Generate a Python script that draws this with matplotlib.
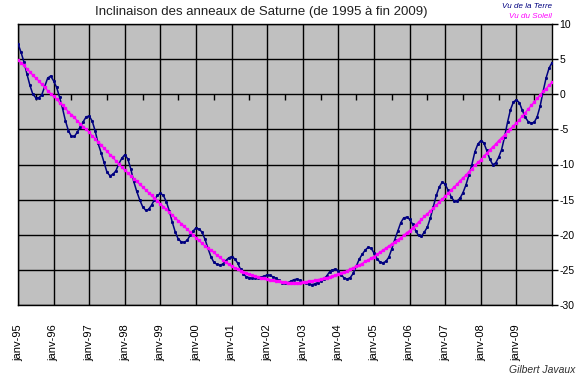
import matplotlib
matplotlib.use("Agg")
import matplotlib.pyplot as plt
import numpy as np

plt.rcParams['font.family'] = ['Liberation Sans', 'DejaVu Sans']
plt.rcParams['axes.unicode_minus'] = False

title = "Inclinaison des anneaux de Saturne (de 1995 à fin 2009)"
label_terre = "Vu de la Terre"
label_soleil = "Vu du Soleil"
author = "Gilbert Javaux"

year_labels = ['janv-95', 'janv-96', 'janv-97', 'janv-98', 'janv-99',
               'janv-00', 'janv-01', 'janv-02', 'janv-03', 'janv-04',
               'janv-05', 'janv-06', 'janv-07', 'janv-08', 'janv-09']

y_ticks = [10, 5, 0, -5, -10, -15, -20, -25, -30]

# monthly values, Jan 1995 .. Jan 2010 (degrees)
terre = [
    7.2, 6.0, 4.6, 2.9, 1.3, 0.0, -0.5, -0.5, -0.1, 1.1, 2.3, 2.6,
    1.9, 1.0, -0.4, -2.0, -3.8, -5.2, -6.0, -6.0, -5.4, -4.6, -3.9, -3.2,
    -3.1, -3.8, -5.2, -7.0, -8.3, -9.7, -11.1, -11.6, -11.4, -10.9, -9.9, -9.1,
    -8.6, -9.2, -10.6, -12.4, -13.8, -15.0, -16.0, -16.5, -16.4, -15.8, -15.0, -14.4,
    -14.1, -14.4, -15.3, -16.6, -18.2, -19.6, -20.6, -21.0, -21.1, -20.8, -20.1, -19.5,
    -19.0, -19.2, -19.6, -20.6, -21.9, -23.1, -23.9, -24.2, -24.3, -24.2, -23.7, -23.3,
    -23.1, -23.4, -24.0, -24.9, -25.6, -26.0, -26.1, -26.2, -26.2, -26.1, -26.0, -25.9,
    -25.7, -25.8, -26.0, -26.2, -26.5, -26.8, -26.9, -26.8, -26.6, -26.4, -26.3, -26.5,
    -26.7, -26.9, -27.0, -27.1, -27.0, -26.8, -26.6, -26.3, -25.9, -25.3, -25.0, -24.9,
    -25.1, -25.7, -26.2, -26.3, -26.1, -25.5, -24.5, -23.5, -22.8, -22.2, -21.8, -21.9,
    -22.6, -23.4, -23.9, -24.0, -23.8, -23.2, -22.0, -20.7, -19.5, -18.3, -17.6, -17.5,
    -17.8, -18.5, -19.4, -20.1, -20.2, -19.6, -18.9, -17.6, -16.0, -14.4, -13.2, -12.5,
    -12.8, -13.7, -14.6, -15.2, -15.2, -14.8, -14.0, -12.9, -11.5, -10.0, -8.2, -7.1,
    -6.6, -6.9, -8.0, -9.2, -10.0, -9.8, -9.0, -7.9, -6.1, -4.0, -2.2, -1.1,
    -0.8, -1.2, -2.3, -3.3, -3.9, -4.1, -4.0, -3.2, -1.7, 0.4, 2.3, 3.7,
    4.5,
]

soleil = [
    4.9, 4.5, 4.1, 3.6, 3.2, 2.7, 2.3, 1.9, 1.4, 1.0, 0.5, 0.1,
    -0.3, -0.7, -1.2, -1.6, -2.0, -2.5, -2.9, -3.3, -3.8, -4.2, -4.6, -5.0,
    -5.4, -5.9, -6.3, -6.8, -7.2, -7.7, -8.1, -8.6, -9.0, -9.5, -9.9, -10.4,
    -10.8, -11.2, -11.6, -12.0, -12.4, -12.8, -13.2, -13.6, -14.0, -14.4, -14.8, -15.2,
    -15.6, -16.0, -16.4, -16.8, -17.2, -17.6, -18.0, -18.4, -18.8, -19.2, -19.6, -20.0,
    -20.4, -20.8, -21.2, -21.6, -21.9, -22.2, -22.5, -22.9, -23.2, -23.6, -23.9, -24.2,
    -24.5, -24.7, -24.9, -25.1, -25.3, -25.5, -25.6, -25.8, -25.9, -26.0, -26.1, -26.2,
    -26.3, -26.4, -26.5, -26.6, -26.6, -26.7, -26.7, -26.8, -26.8, -26.8, -26.8, -26.8,
    -26.7, -26.7, -26.6, -26.6, -26.5, -26.4, -26.3, -26.2, -26.1, -26.0, -25.9, -25.7,
    -25.6, -25.4, -25.3, -25.1, -24.9, -24.7, -24.5, -24.3, -24.1, -23.8, -23.6, -23.3,
    -23.1, -22.8, -22.5, -22.2, -21.9, -21.6, -21.3, -21.0, -20.7, -20.4, -20.1, -19.7,
    -19.4, -19.0, -18.6, -18.2, -17.8, -17.4, -17.0, -16.6, -16.2, -15.8, -15.3, -14.9,
    -14.5, -14.1, -13.6, -13.2, -12.8, -12.3, -11.9, -11.5, -11.0, -10.6, -10.1, -9.7,
    -9.3, -8.8, -8.4, -7.9, -7.5, -7.1, -6.6, -6.2, -5.8, -5.3, -4.9, -4.5,
    -4.1, -3.6, -3.1, -2.6, -2.1, -1.6, -1.1, -0.6, -0.1, 0.4, 0.8, 1.3,
    1.7,
]

months = np.arange(len(terre))

W, H = 582, 380
fig = plt.figure(figsize=(W / 100, H / 100), dpi=100)
fig.patch.set_facecolor('white')
ax = fig.add_axes([18 / W, (H - 305) / H, 534 / W, 281 / H])
ax.set_facecolor('#C0C0C0')

ax.plot(months, terre, color='#000080', lw=1.1, marker='s', ms=1.1,
        mec='#000080', mfc='#000080', zorder=3)
ax.plot(months, soleil, color='#FF00FF', lw=0.9, marker='s', ms=1.6,
        mec='#FF00FF', mfc='#FF00FF', zorder=4)

ax.set_xlim(0, len(terre) - 1)
ax.set_ylim(-30, 10)
ax.set_xticks(np.arange(0, 12 * len(year_labels), 12))
ax.set_xticklabels(year_labels, rotation=90, fontsize=8)
ax.tick_params(axis='x', length=0, pad=14)

ax.yaxis.tick_right()
ax.set_yticks(y_ticks)
ax.set_yticklabels([str(v) for v in y_ticks])
ax.tick_params(axis='y', direction='out', length=4, width=1, labelsize=7.5, pad=1.5)

ax.grid(True, color='black', lw=1)
ax.set_axisbelow(True)
for s in ax.spines.values():
    s.set_color('black')
    s.set_linewidth(1)

# category axis crossing at 0 with mid-year tick marks
sec = ax.secondary_xaxis(0.75)
sec.set_xticks(np.arange(6, 12 * len(year_labels), 12))
sec.tick_params(axis='x', direction='in', length=4, width=1,
                labeltop=False, labelbottom=False)
sec.spines['top'].set_visible(False)
sec.spines['bottom'].set_visible(False)

fig.text(261 / W, 1 - 11.5 / H, title, ha='center', va='center',
         fontsize=9.5, color='#202020')
fig.text(552 / W, 1 - 7 / H, label_terre, ha='right', va='center',
         fontsize=5.8, style='italic', color='#000080')
fig.text(552 / W, 1 - 16 / H, label_soleil, ha='right', va='center',
         fontsize=5.8, style='italic', color='#FF00FF')
fig.text(575 / W, 1 - 370 / H, author, ha='right', va='center',
         fontsize=7.5, style='italic', color='#303030')

fig.savefig('out.png', dpi=100)
